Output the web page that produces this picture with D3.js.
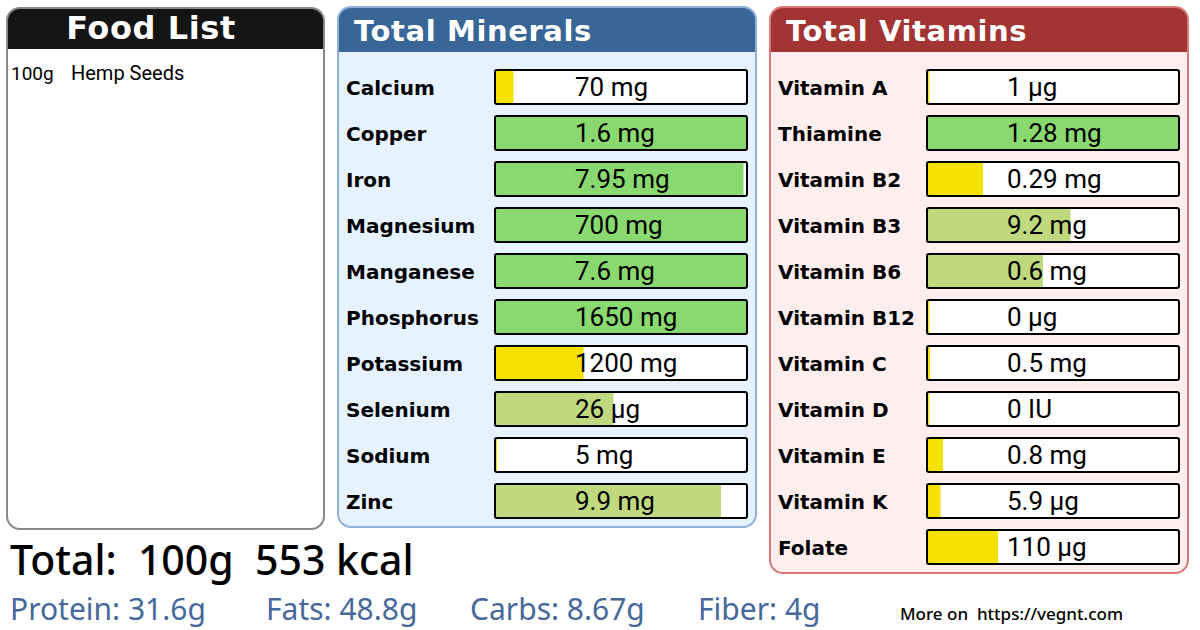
<!DOCTYPE html>
<html>
<head>
<meta charset="utf-8">
<script src="https://cdn.jsdelivr.net/npm/d3@7"></script>
<style>
  html, body { margin: 0; padding: 0; background: #fff; }
  svg { display: block; }
  .lbl { font-family: "DejaVu Sans"; font-weight: bold; font-size: 20px; fill: #000; }
  .val { font-family: Roboto; font-size: 26px; fill: #000; }
  .head { font-family: "DejaVu Sans"; font-weight: bold; fill: #fff; }
  .macro { font-family: "Noto Sans"; font-size: 30px; fill: #46689a; }
</style>
</head>
<body>
<svg id="chart" width="1200" height="630"></svg>
<script>
const mineralNames = ['Calcium', 'Copper', 'Iron', 'Magnesium', 'Manganese', 'Phosphorus', 'Potassium', 'Selenium', 'Sodium', 'Zinc'];
const mineralText = ['70 mg', '1.6 mg', '7.95 mg', '700 mg', '7.6 mg', '1650 mg', '1200 mg', '26 µg', '5 mg', '9.9 mg'];
const mineralPct = [7, 100, 99, 100, 100, 100, 35, 47, 0.4, 90];

const vitaminNames = ['Vitamin A', 'Thiamine', 'Vitamin B2', 'Vitamin B3', 'Vitamin B6', 'Vitamin B12', 'Vitamin C', 'Vitamin D', 'Vitamin E', 'Vitamin K', 'Folate'];
const vitaminText = ['1 µg', '1.28 mg', '0.29 mg', '9.2 mg', '0.6 mg', '0 µg', '0.5 mg', '0 IU', '0.8 mg', '5.9 µg', '110 µg'];
const vitaminPct = [0.5, 100, 22, 57, 46, 0.5, 0.8, 0.5, 6, 5, 28];

const macroNames = ['Protein: 31.6g', 'Fats: 48.8g', 'Carbs: 8.67g', 'Fiber: 4g'];
const macroX = [10, 266, 470, 698];

const svg = d3.select('#chart');

const color = d3.scaleThreshold()
  .domain([40, 95])
  .range(['#f5e200', '#c0d97f', '#8ad970']);

const width = d3.scaleLinear().domain([0, 100]).range([0, 250]);

// rounded panel with a coloured title strip
function panel(x, y, w, h, headH, fill, stroke, headFill, title, titleX, titleY, titleSize, anchor) {
  const g = svg.append('g').attr('transform', `translate(${x},${y})`);
  const id = 'clip' + Math.round(x);
  g.append('clipPath').attr('id', id)
    .append('rect').attr('width', w).attr('height', h).attr('rx', 13);
  g.append('rect').attr('width', w).attr('height', h).attr('rx', 13).attr('fill', fill);
  g.append('rect').attr('width', w).attr('height', headH).attr('fill', headFill).attr('clip-path', `url(#${id})`);
  g.append('rect').attr('width', w).attr('height', h).attr('rx', 13)
    .attr('fill', 'none').attr('stroke', stroke).attr('stroke-width', 2);
  svg.append('text').attr('class', 'head')
    .attr('x', titleX).attr('y', titleY)
    .attr('text-anchor', anchor)
    .style('font-size', titleSize + 'px')
    .style('letter-spacing', '0.6px')
    .text(title);
}

// one column of labelled progress bars
function bars(names, texts, pct, labelX, barX) {
  const rows = names.map((n, i) => ({ name: n, text: texts[i], pct: pct[i] }));
  const y = d3.scaleBand()
    .domain(names)
    .range([69, 69 + 46 * names.length])
    .paddingInner(0);

  const row = svg.append('g').selectAll('g').data(rows).join('g')
    .attr('transform', d => `translate(0,${y(d.name)})`);

  row.append('text').attr('class', 'lbl')
    .attr('x', labelX).attr('y', 26)
    .text(d => d.name);

  row.append('rect')
    .attr('x', barX + 1).attr('y', 1).attr('width', 252).attr('height', 34).attr('rx', 2)
    .attr('fill', '#fff');
  row.append('rect')
    .attr('x', barX + 2).attr('y', 2).attr('height', 32)
    .attr('width', d => width(d.pct))
    .attr('fill', d => color(d.pct));
  row.append('rect')
    .attr('x', barX + 1).attr('y', 1).attr('width', 252).attr('height', 34).attr('rx', 2)
    .attr('fill', 'none').attr('stroke', '#000').attr('stroke-width', 2);
  row.append('text').attr('class', 'val')
    .attr('x', barX + 81).attr('y', 27)
    .text(d => d.text);
}

panel(7, 8, 317, 521, 41, '#fff', '#888', '#141414', 'Food List', 151, 39, 32, 'middle');
panel(338, 7, 418, 520, 45, '#e6f3fe', '#8fb0d8', '#386696', 'Total Minerals', 354, 41, 29, 'start');
panel(770, 7, 418, 566, 45, '#ffeeee', '#d87878', '#a33434', 'Total Vitamins', 786, 41, 29, 'start');

bars(mineralNames, mineralText, mineralPct, 346, 494);
bars(vitaminNames, vitaminText, vitaminPct, 778, 926);

svg.append('text').attr('x', 11).attr('y', 80)
  .style('font-family', 'Roboto').style('font-size', '19px').text('100g');
svg.append('text').attr('x', 71).attr('y', 80)
  .style('font-family', 'Roboto').style('font-size', '20px').text('Hemp Seeds');

svg.append('text').attr('x', 10).attr('y', 575)
  .style('font-family', '"Noto Sans"').style('font-size', '41px').style('font-weight', 500)
  .style('white-space', 'pre')
  .text('Total:  100g  553 kcal');

svg.append('g').selectAll('text').data(macroNames).join('text')
  .attr('class', 'macro')
  .attr('x', (d, i) => macroX[i]).attr('y', 620)
  .text(d => d);

svg.append('text').attr('x', 900).attr('y', 620)
  .style('font-family', '"Noto Sans"').style('font-size', '17px').style('font-weight', 500)
  .style('white-space', 'pre')
  .text('More on  https://vegnt.com');
</script>
</body>
</html>
